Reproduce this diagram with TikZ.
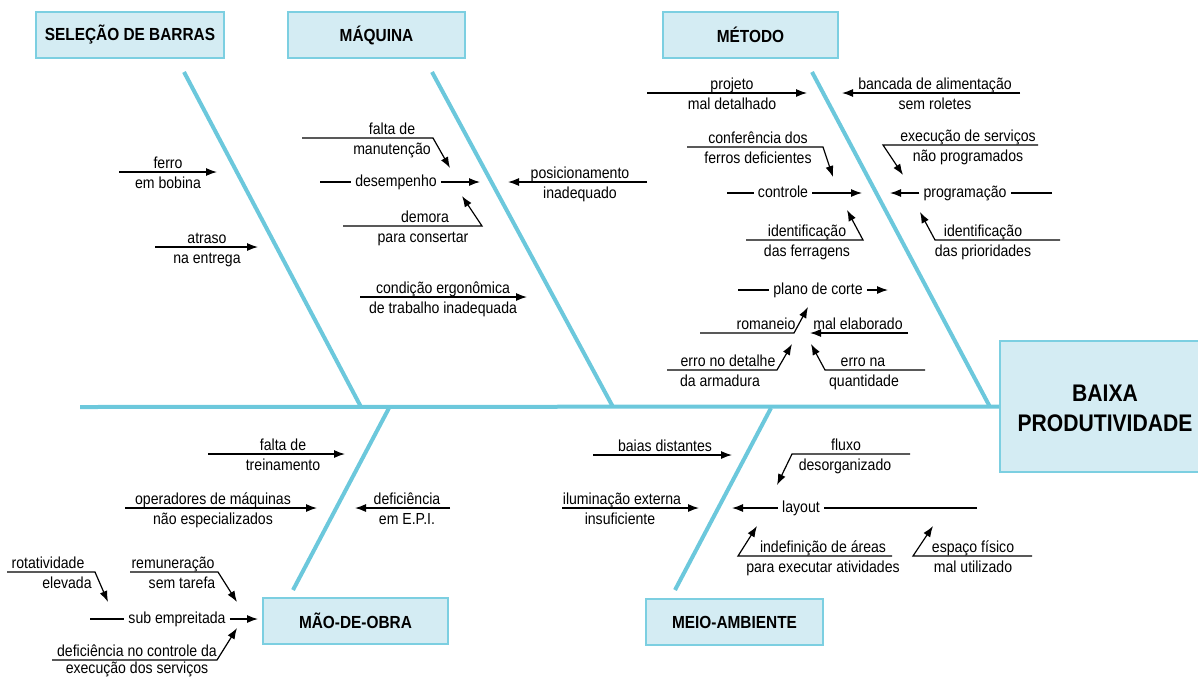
\documentclass[tikz,border=0pt]{standalone}
\usepackage{fontspec}
\usepackage{tikz}
\usetikzlibrary{arrows.meta, positioning, calc}
\newfontfamily\fishfont{Liberation Sans}[FakeStretch=0.88]
\definecolor{fishblue}{HTML}{6CC8DC}
\definecolor{boxfill}{HTML}{D4ECF3}
\definecolor{boxedge}{HTML}{7CCFE1}

\begin{document}
\begin{tikzpicture}[
  x=1pt, y=-1pt,
  >={Latex[length=11pt,width=8pt]},
  bone/.style   = {draw=fishblue, line width=4pt},
  catbox/.style = {draw=boxedge, fill=boxfill, line width=1.8pt, inner sep=0pt,
                   minimum height=46pt, font={\fishfont\bfseries\fontsize{17.5}{19}\selectfont}},
  cl/.style     = {line width=1.2pt},
  ctop/.style   = {anchor=base, inner sep=0pt, yshift=3.5pt, font={\fishfont\fontsize{16}{18}\selectfont}},
  cbot/.style   = {anchor=base, inner sep=0pt, yshift=-16pt, font={\fishfont\fontsize{16}{18}\selectfont}},
  cmid/.style   = {anchor=mid, inner xsep=4pt, inner ysep=0pt, yshift=-2.5pt, font={\fishfont\fontsize{16}{18}\selectfont}},
]
  \path[use as bounding box] (0,0) rectangle (1198,678);
  \clip (0,0) rectangle (1198,678);

  % category boxes and effect
  \node[catbox, minimum width=188pt] (sel)  at (130,35)    {SELEÇÃO DE BARRAS};
  \node[catbox, minimum width=177pt] (maq)  at (376.5,35)  {MÁQUINA};
  \node[catbox, minimum width=175pt] (met)  at (750.5,35)  {MÉTODO};
  \node[catbox, minimum width=185pt] (mao)  at (355.5,621) {MÃO-DE-OBRA};
  \node[catbox, minimum width=215pt, minimum height=131pt] (efeito) at (1107.5,406.5) {};
  \node[align=center, inner sep=0pt, font={\fishfont\bfseries\fontsize{24}{30}\selectfont}]
        (efeitoT) at (1105,408) {BAIXA\\PRODUTIVIDADE};
  \node[catbox, minimum width=177pt] (meio) at (734.5,622) {MEIO-AMBIENTE};

  % spine and bones
  \coordinate (spineL) at (80,407);
  \draw[bone] (spineL) -- (efeito.west);
  \coordinate (selA)  at (184,72);  \coordinate (selB)  at (361,407);
  \coordinate (maqA)  at (432,72);  \coordinate (maqB)  at (613,407);
  \coordinate (metA)  at (812,72);  \coordinate (metB)  at (990,407);
  \coordinate (maoA)  at (389,408); \coordinate (maoB)  at (293,590);
  \coordinate (meioA) at (771,408); \coordinate (meioB) at (675,590);
  \draw[bone] (selA) -- (selB);
  \draw[bone] (maqA) -- (maqB);
  \draw[bone] (metA) -- (metB);
  \draw[bone] (maoA) -- (maoB);
  \draw[bone] (meioA) -- (meioB);

  % --- selecao de barras
  \coordinate (ferroL) at (119,172); \coordinate (ferroR) at (217,172);
  \draw[cl,->] (ferroL) -- (ferroR);
  \node[ctop] (ferroT) at (168,172) {ferro};
  \node[cbot] (ferroB) at (168,172) {em bobina};

  \coordinate (atrasoL) at (155,247); \coordinate (atrasoR) at (258,247);
  \draw[cl,->] (atrasoL) -- (atrasoR);
  \node[ctop] (atrasoT) at (207,247) {atraso};
  \node[cbot] (atrasoB) at (207,247) {na entrega};

  % --- maquina
  \coordinate (manutL) at (302,138); \coordinate (manutK) at (433,138); \coordinate (manutT) at (450,168);
  \draw[cl,->] (manutL) -- (manutK) -- (manutT);
  \node[ctop] (manutA) at (392,138) {falta de};
  \node[cbot] (manutB) at (392,138) {manutenção};

  \coordinate (desL) at (320,182); \coordinate (desR) at (480,182);
  \node[cmid] (desN) at (396,182) {desempenho};
  \draw[cl] (desL) -- (desL -| desN.west);
  \draw[cl,->] (desR -| desN.east) -- (desR);

  \coordinate (demoraL) at (343,226); \coordinate (demoraK) at (482,226); \coordinate (demoraT) at (462,196);
  \draw[cl,->] (demoraL) -- (demoraK) -- (demoraT);
  \node[ctop] (demoraA) at (425,226) {demora};
  \node[cbot] (demoraB) at (423,226) {para consertar};

  \coordinate (posR) at (647,182); \coordinate (posT) at (508,182);
  \draw[cl,->] (posR) -- (posT);
  \node[ctop] (posA) at (580,182) {posicionamento};
  \node[cbot] (posB) at (580,182) {inadequado};

  \coordinate (ergoL) at (360,297); \coordinate (ergoR) at (527,297);
  \draw[cl,->] (ergoL) -- (ergoR);
  \node[ctop] (ergoA) at (443,297) {condição ergonômica};
  \node[cbot] (ergoB) at (443,297) {de trabalho inadequada};

  % --- metodo
  \coordinate (projL) at (647,93); \coordinate (projR) at (807,93);
  \draw[cl,->] (projL) -- (projR);
  \node[ctop] (projA) at (732,93) {projeto};
  \node[cbot] (projB) at (732,93) {mal detalhado};

  \coordinate (bancR) at (1020,93); \coordinate (bancT) at (842,93);
  \draw[cl,->] (bancR) -- (bancT);
  \node[ctop] (bancA) at (935,93) {bancada de alimentação};
  \node[cbot] (bancB) at (935,93) {sem roletes};

  \coordinate (confL) at (687,147); \coordinate (confK) at (823,147); \coordinate (confT) at (833,177);
  \draw[cl,->] (confL) -- (confK) -- (confT);
  \node[ctop] (confA) at (758,147) {conferência dos};
  \node[cbot] (confB) at (758,147) {ferros deficientes};

  \coordinate (ctrlL) at (727,193); \coordinate (ctrlR) at (862,193);
  \node[cmid] (ctrlN) at (783,193) {controle};
  \draw[cl] (ctrlL) -- (ctrlL -| ctrlN.west);
  \draw[cl,->] (ctrlR -| ctrlN.east) -- (ctrlR);

  \coordinate (ferrL) at (746,240); \coordinate (ferrK) at (863,240); \coordinate (ferrT) at (847,210);
  \draw[cl,->] (ferrL) -- (ferrK) -- (ferrT);
  \node[ctop] (ferrA) at (807,240) {identificação};
  \node[cbot] (ferrB) at (807,240) {das ferragens};

  \coordinate (execR) at (1038,145); \coordinate (execK) at (883,145); \coordinate (execT) at (903,175);
  \draw[cl,->] (execR) -- (execK) -- (execT);
  \node[ctop] (execA) at (968,145) {execução de serviços};
  \node[cbot] (execB) at (968,145) {não programados};

  \coordinate (progR) at (1052,193); \coordinate (progT) at (890,193);
  \node[cmid] (progN) at (965,193) {programação};
  \draw[cl] (progR) -- (progR -| progN.east);
  \draw[cl,->] (progT -| progN.west) -- (progT);

  \coordinate (priorR) at (1060,240); \coordinate (priorK) at (935,240); \coordinate (priorT) at (920,212);
  \draw[cl,->] (priorR) -- (priorK) -- (priorT);
  \node[ctop] (priorA) at (983,240) {identificação};
  \node[cbot] (priorB) at (983,240) {das prioridades};

  \coordinate (planoL) at (738,290); \coordinate (planoR) at (888,290);
  \node[cmid] (planoN) at (818,290) {plano de corte};
  \draw[cl] (planoL) -- (planoL -| planoN.west);
  \draw[cl,->] (planoR -| planoN.east) -- (planoR);

  \coordinate (romL) at (700,333); \coordinate (romK) at (794,333); \coordinate (romT) at (808,307);
  \draw[cl,->] (romL) -- (romK) -- (romT);
  \node[ctop] (romA) at (766,333) {romaneio};

  \coordinate (elabR) at (908,333); \coordinate (elabT) at (810,333);
  \draw[cl,->] (elabR) -- (elabT);
  \node[ctop] (elabA) at (858,333) {mal elaborado};

  \coordinate (detL) at (667,370); \coordinate (detK) at (777,370); \coordinate (detT) at (792,344);
  \draw[cl,->] (detL) -- (detK) -- (detT);
  \node[ctop] (detA) at (728,370) {erro no detalhe};
  \node[cbot] (detB) at (720,370) {da armadura};

  \coordinate (qtdR) at (925,370); \coordinate (qtdK) at (825,370); \coordinate (qtdT) at (811,344);
  \draw[cl,->] (qtdR) -- (qtdK) -- (qtdT);
  \node[ctop] (qtdA) at (863,370) {erro na};
  \node[cbot] (qtdB) at (864,370) {quantidade};

  % --- mao-de-obra
  \coordinate (treinL) at (208,454); \coordinate (treinR) at (345,454);
  \draw[cl,->] (treinL) -- (treinR);
  \node[ctop] (treinA) at (283,454) {falta de};
  \node[cbot] (treinB) at (283,454) {treinamento};

  \coordinate (operL) at (125,508); \coordinate (operR) at (317,508);
  \draw[cl,->] (operL) -- (operR);
  \node[ctop] (operA) at (213,508) {operadores de máquinas};
  \node[cbot] (operB) at (213,508) {não especializados};

  \coordinate (epiR) at (450,508); \coordinate (epiT) at (355,508);
  \draw[cl,->] (epiR) -- (epiT);
  \node[ctop] (epiA) at (407,508) {deficiência};
  \node[cbot] (epiB) at (407,508) {em E.P.I.};

  \coordinate (rotL) at (7,572); \coordinate (rotK) at (95,572); \coordinate (rotT) at (108,602);
  \draw[cl,->] (rotL) -- (rotK) -- (rotT);
  \node[ctop] (rotA) at (48,572) {rotatividade};
  \node[cbot] (rotB) at (67,572) {elevada};

  \coordinate (remL) at (130,572); \coordinate (remK) at (218,572); \coordinate (remT) at (237,602);
  \draw[cl,->] (remL) -- (remK) -- (remT);
  \node[ctop] (remA) at (173,572) {remuneração};
  \node[cbot] (remB) at (182,572) {sem tarefa};

  \coordinate (subL) at (90,619); \coordinate (subR) at (258,619);
  \node[cmid] (subN) at (177,619) {sub empreitada};
  \draw[cl] (subL) -- (subL -| subN.west);
  \draw[cl,->] (subR -| subN.east) -- (subR);

  \coordinate (ctlL) at (52,660); \coordinate (ctlK) at (217,660); \coordinate (ctlT) at (237,628);
  \draw[cl,->] (ctlL) -- (ctlK) -- (ctlT);
  \node[ctop] (ctlA) at (137,660) {deficiência no controle da};
  \node[cbot, yshift=2.5pt] (ctlB) at (137,660) {execução dos serviços};

  % --- meio-ambiente
  \coordinate (baiasL) at (593,455); \coordinate (baiasR) at (732,455);
  \draw[cl,->] (baiasL) -- (baiasR);
  \node[ctop] (baiasA) at (665,455) {baias distantes};

  \coordinate (ilumL) at (562,508); \coordinate (ilumR) at (699,508);
  \draw[cl,->] (ilumL) -- (ilumR);
  \node[ctop] (ilumA) at (622,508) {iluminação externa};
  \node[cbot] (ilumB) at (620,508) {insuficiente};

  \coordinate (fluxoR) at (910,454); \coordinate (fluxoK) at (792,454); \coordinate (fluxoT) at (777,485);
  \draw[cl,->] (fluxoR) -- (fluxoK) -- (fluxoT);
  \node[ctop] (fluxoA) at (846,454) {fluxo};
  \node[cbot] (fluxoB) at (845,454) {desorganizado};

  \coordinate (layR) at (977,508); \coordinate (layT) at (732,508);
  \node[cmid] (layN) at (801,508) {layout};
  \draw[cl] (layR) -- (layR -| layN.east);
  \draw[cl,->] (layT -| layN.west) -- (layT);

  \coordinate (areaR) at (892,556); \coordinate (areaK) at (738,556); \coordinate (areaT) at (757,526);
  \draw[cl,->] (areaR) -- (areaK) -- (areaT);
  \node[ctop] (areaA) at (823,556) {indefinição de áreas};
  \node[cbot] (areaB) at (823,556) {para executar atividades};

  \coordinate (espR) at (1032,556); \coordinate (espK) at (913,556); \coordinate (espT) at (933,526);
  \draw[cl,->] (espR) -- (espK) -- (espT);
  \node[ctop] (espA) at (973,556) {espaço físico};
  \node[cbot] (espB) at (973,556) {mal utilizado};
\end{tikzpicture}
\end{document}
